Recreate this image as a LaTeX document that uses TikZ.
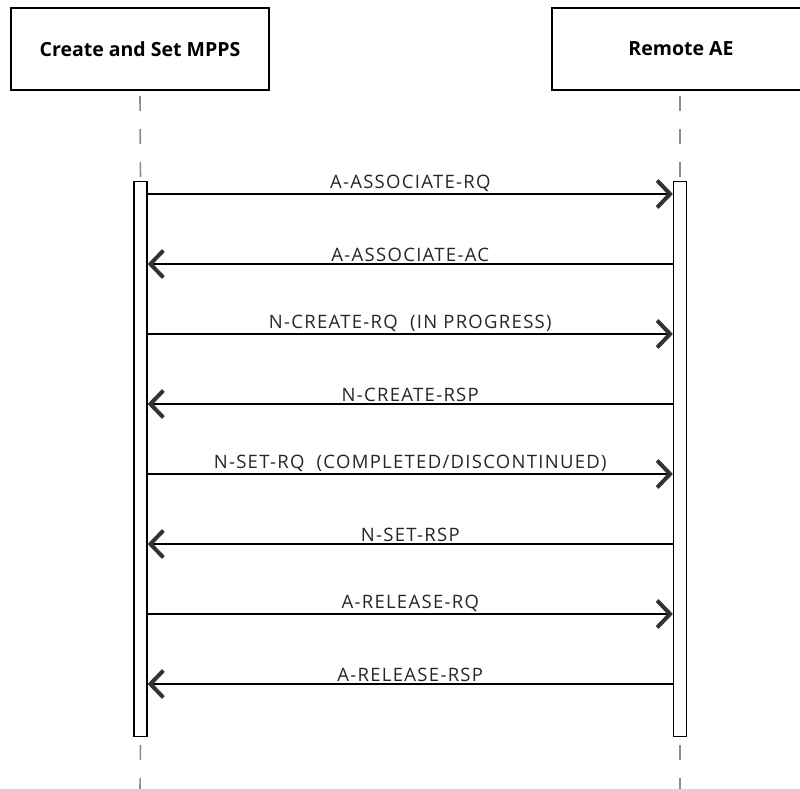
\documentclass[tikz,border=0pt]{standalone}
\usepackage{fontspec}
\setmainfont{Open Sans}
\newfontfamily\msgfont[LetterSpace=7]{Open Sans}
\usetikzlibrary{arrows.meta}

\tikzset{
  actor/.style={draw, line width=2.5pt, fill=white, minimum width=258pt, minimum height=82pt,
    font=\fontsize{19.5}{22}\selectfont\bfseries},
  lifeline/.style={draw=black!45, line width=1.6pt, dash pattern=on 15pt off 18pt},
  bar/.style={draw, line width=1.2pt, fill=white, minimum width=13pt, minimum height=555pt},
  msg/.style={line width=2.8pt, -{Straight Barb[length=13pt,width=27pt,line width=4pt,color=black!80]}},
  msglabel/.style={midway, above=0pt, inner sep=1pt, font=\msgfont\fontsize{18.5}{21}\selectfont, text=black!85}
}

\begin{document}
\begin{tikzpicture}[x=1pt,y=-1pt]
	\useasboundingbox (0,0) rectangle (800,789);

	% Draw the two participants
	\node[actor] (mpps) at (140,49) {Create and Set MPPS};
	\node[actor] (remote) at (681,49) {Remote AE};

	% Draw the activation bars
	\node[bar] (mppsbar) at (140.5,459) {};
	\node[bar] (remotebar) at (680,459) {};

	% Draw the dashed lifelines
	\draw[lifeline] (140,96) -- (mppsbar.north);
	\draw[lifeline] (680,96) -- (remotebar.north);
	\draw[lifeline] (mppsbar.south) ++(0,8) -- (140,789);
	\draw[lifeline] (remotebar.south) ++(0,8) -- (680,789);

	% Draw the messages, requests go right and answers go left
	\draw[msg] (mppsbar.east |- 0,194) -- (remotebar.west |- 0,194) node[msglabel] {A-ASSOCIATE-RQ};
	\draw[msg] (remotebar.west |- 0,264) -- (mppsbar.east |- 0,264) node[msglabel] {A-ASSOCIATE-AC};
	\draw[msg] (mppsbar.east |- 0,334) -- (remotebar.west |- 0,334) node[msglabel] {N-CREATE-RQ\ \ (IN PROGRESS)};
	\draw[msg] (remotebar.west |- 0,404) -- (mppsbar.east |- 0,404) node[msglabel] {N-CREATE-RSP};
	\draw[msg] (mppsbar.east |- 0,474) -- (remotebar.west |- 0,474) node[msglabel] {N-SET-RQ\ \ (COMPLETED/DISCONTINUED)};
	\draw[msg] (remotebar.west |- 0,544) -- (mppsbar.east |- 0,544) node[msglabel] {N-SET-RSP};
	\draw[msg] (mppsbar.east |- 0,614) -- (remotebar.west |- 0,614) node[msglabel] {A-RELEASE-RQ};
	\draw[msg] (remotebar.west |- 0,684) -- (mppsbar.east |- 0,684) node[msglabel] {A-RELEASE-RSP};

\end{tikzpicture}
\end{document}
